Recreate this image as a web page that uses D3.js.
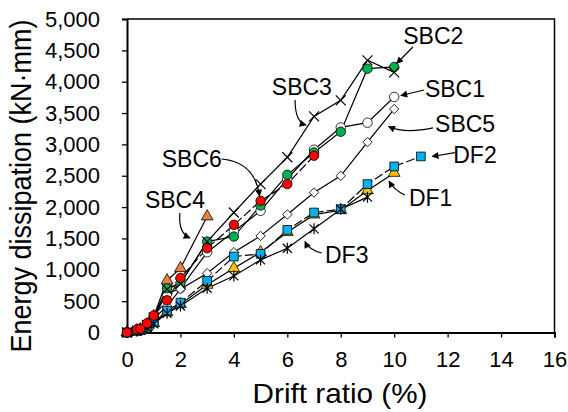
<!DOCTYPE html>
<html>
<head>
<meta charset="utf-8">
<script src="https://cdn.jsdelivr.net/npm/d3@7"></script>
<style>
  body { margin: 0; background: #fff; }
  text { font-family: "Liberation Sans", Arial, sans-serif; fill: #000; }
</style>
</head>
<body>
<svg id="chart" width="568" height="412"></svg>
<script>
// drift ratio steps (%)
const drift = [0, 0.375, 0.5, 0.75, 1, 1.5, 2, 3, 4, 5, 6, 7, 8, 9, 10, 11];

// energy dissipation (kN·mm), null = not tested
const SBC1 = [0, 35, 50, 130, 250, 620, 706, 1280, 1610, 1940, 2450, 2915, 3271, 3346, 3756, null];
const SBC2 = [0, 35, 50, 135, 260, 706, 785, 1450, 1530, 2025, 2515, 2871, 3202, 4208, 4235, null];
const SBC3 = [0, 30, 45, 120, 240, 690, 780, 1450, 1914, 2367, 2795, 3447, 3702, 4341, 4149, null];
const SBC4 = [0, 35, 50, 130, 260, 830, 1025, 1850, null, null, null, null, null, null, null, null];
const SBC5 = [0, 30, 45, 110, 220, 420, 690, 945, 1281, 1541, 1882, 2233, 2499, 3037, 3564, null];
const SBC6 = [0, 50, 60, 147, 270, 514, 870, 1344, 1717, 2100, 2367, 2819, null, null, null, null];
const DF1 = [0, 25, 40, 90, 150, 320, 450, 760, 1025, 1280, 1600, 1880, 1950, 2265, 2545, null];
const DF2 = [0, 25, 40, 90, 160, 348, 476, 822, 1211, 1254, 1637, 1913, 1967, 2367, 2648, 2808];
const DF3 = [0, 20, 35, 80, 140, 306, 423, 706, 902, 1158, 1344, 1653, 1967, 2159, null, null];

const xTicks = [0, 2, 4, 6, 8, 10, 12, 14, 16];
const yTicks = [0, 500, 1000, 1500, 2000, 2500, 3000, 3500, 4000, 4500, 5000];

// label text, label anchor [drift, energy], arrow [start, control, end]
const labels = [
  {name: "SBC2", at: [10.34, 4597], arrow: [[10.70, 4553], null, [10.09, 4291]]},
  {name: "SBC1", at: [11.15, 3761], arrow: [[11.12, 3868], null, [10.25, 3780]]},
  {name: "SBC5", at: [11.53, 3193], arrow: [[11.45, 3263], [10.40, 3166], [9.79, 3286]]},
  {name: "DF2",  at: [12.21, 2708], arrow: [[12.27, 2868], null, [11.42, 2807]]},
  {name: "DF1",  at: [10.55, 2018], arrow: [[10.40, 2193], [9.99, 2273], [9.81, 2416]]},
  {name: "DF3",  at: [7.41, 1113],  arrow: [[7.29, 1268], [6.81, 1316], [6.66, 1451]]},
  {name: "SBC3", at: [5.42, 3788],  arrow: [[6.29, 3708], [6.29, 3357], [6.70, 3310]]},
  {name: "SBC6", at: [1.30, 2645],  arrow: [[3.54, 2767], [4.79, 2719], [4.96, 2177]]},
  {name: "SBC4", at: [0.67, 1986],  arrow: [[1.98, 1906], [1.91, 1587], [2.36, 1507]]}
];

// drawing order: red circles end up on top
const series = [
  {name: "SBC1", values: SBC1, shape: "circle",   fill: "#ffffff", dash: null},
  {name: "SBC2", values: SBC2, shape: "circle",   fill: "#00b050", dash: null},
  {name: "SBC3", values: SBC3, shape: "times",    fill: "none",    dash: null},
  {name: "SBC4", values: SBC4, shape: "triangle", fill: "#e8823c", dash: null},
  {name: "SBC5", values: SBC5, shape: "diamond",  fill: "#ffffff", dash: null},
  {name: "DF1",  values: DF1,  shape: "triangle", fill: "#ffc000", dash: null},
  {name: "DF2",  values: DF2,  shape: "square",   fill: "#00b0f0", dash: "9,3"},
  {name: "DF3",  values: DF3,  shape: "asterisk", fill: "none",    dash: null},
  {name: "SBC6", values: SBC6, shape: "circle",   fill: "#ff0000", dash: "9,3"}
];

const svg = d3.select("#chart");
const mLeft = 127, mRight = 554.5, mTop = 19, mBottom = 332.5;

const x = d3.scaleLinear().domain([0, 16]).range([mLeft, mRight]);
const y = d3.scaleLinear().domain([0, 5000]).range([mBottom, mTop]);

// arrowhead
svg.append("defs").append("marker")
    .attr("id", "head")
    .attr("viewBox", "0 0 10 10")
    .attr("refX", 9).attr("refY", 5)
    .attr("markerWidth", 8).attr("markerHeight", 7)
    .attr("markerUnits", "userSpaceOnUse")
    .attr("orient", "auto")
  .append("path")
    .attr("d", "M0,0L10,5L0,10Z")
    .attr("fill", "#000");

// box
svg.append("path")
    .attr("d", `M${mLeft},${mTop}H${mRight}V${mBottom}`)
    .attr("fill", "none").attr("stroke", "#000").attr("stroke-width", 1.5);

var xAxis = svg.append("g")
    .attr("transform", `translate(0,${mBottom})`)
    .call(d3.axisBottom(x).tickValues(xTicks).tickSize(5).tickPadding(14).tickFormat(d3.format("d")));
var yAxis = svg.append("g")
    .attr("transform", `translate(${mLeft},0)`)
    .call(d3.axisLeft(y).tickValues(yTicks).tickSize(5).tickPadding(22).tickFormat(d3.format(",")));

[xAxis, yAxis].forEach(a => {
  a.select(".domain").attr("stroke-width", 2);
  a.selectAll(".tick line").attr("stroke-width", 1.3);
  a.selectAll("text").style("font-size", "22px")
      .style("font-family", "'Liberation Sans', Arial, sans-serif");
});

svg.append("text")
    .attr("transform", "translate(340,403) scale(1.1,1)")
    .attr("text-anchor", "middle")
    .style("font-size", "27px")
    .text("Drift ratio (%)");

svg.append("text")
    .attr("transform", "translate(31,186) scale(1.1,1) rotate(-90)")
    .attr("text-anchor", "middle")
    .style("font-size", "27px")
    .text("Energy dissipation (kN·mm)");

// lines
const line = d3.line()
    .defined(d => d.v != null)
    .x(d => x(d.d))
    .y(d => y(d.v));

series.forEach(s => {
  s.points = drift.map((d, i) => ({d: d, v: s.values[i]}));
});

svg.append("g").selectAll("path")
    .data(series)
  .enter().append("path")
    .attr("d", s => line(s.points))
    .attr("fill", "none")
    .attr("stroke", "#000")
    .attr("stroke-width", 1.2)
    .attr("stroke-dasharray", s => s.dash);

// markers
const shapes = {
  circle: d3.symbol().type(d3.symbolCircle).size(70)(),
  square: d3.symbol().type(d3.symbolSquare).size(76)(),
  triangle: d3.symbol().type(d3.symbolTriangle).size(60)(),
  diamond: d3.symbol().type(d3.symbolSquare).size(44)(),
  times: "M-5,-5L5,5M-5,5L5,-5",
  asterisk: "M-4.5,-4.5L4.5,4.5M-4.5,4.5L4.5,-4.5M0,-5.5L0,5.5"
};

series.forEach(s => {
  svg.append("g").selectAll("path")
      .data(s.points.filter(p => p.v != null))
    .enter().append("path")
      .attr("d", shapes[s.shape])
      .attr("transform", p => `translate(${x(p.d)},${y(p.v)})` + (s.shape === "diamond" ? " rotate(45)" : ""))
      .attr("fill", s.fill)
      .attr("stroke", "#000")
      .attr("stroke-width", s.fill === "none" ? 1.2 : 0.8);
});

// annotations
const curve = a => {
  const p = a.map(q => q && [x(q[0]), y(q[1])]);
  return a[1]
    ? `M${p[0]}Q${p[1]} ${p[2]}`
    : `M${p[0]}L${p[2]}`;
};

svg.append("g").selectAll("path")
    .data(labels)
  .enter().append("path")
    .attr("d", l => curve(l.arrow))
    .attr("fill", "none")
    .attr("stroke", "#000")
    .attr("stroke-width", 1.2)
    .attr("marker-end", "url(#head)");

svg.append("g").selectAll("text")
    .data(labels)
  .enter().append("text")
    .attr("x", l => x(l.at[0]))
    .attr("y", l => y(l.at[1]))
    .style("font-size", "23px")
    .text(l => l.name);
</script>
</body>
</html>
